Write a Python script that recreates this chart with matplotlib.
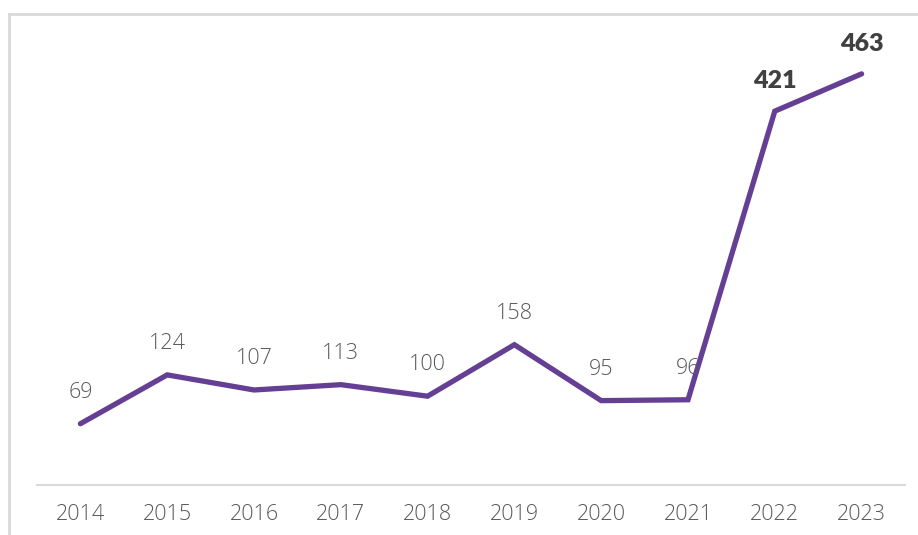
import matplotlib
matplotlib.use("Agg")
import matplotlib.pyplot as plt
from matplotlib.lines import Line2D

years = ["2014", "2015", "2016", "2017", "2018", "2019", "2020", "2021", "2022", "2023"]
values = [69, 124, 107, 113, 100, 158, 95, 96, 421, 463]
bold_labels = {"2022", "2023"}

W, H = 918, 535
fig = plt.figure(figsize=(W / 100, H / 100), dpi=100)
fig.patch.set_facecolor("white")

# outer frame (top and left only)
fx0 = 8.5 / W
fy0 = 1 - 13.5 / H
fig.add_artist(Line2D([fx0, 1], [fy0, fy0], transform=fig.transFigure, color="#d9d9d9", lw=2))
fig.add_artist(Line2D([fx0, fx0], [0, fy0], transform=fig.transFigure, color="#d9d9d9", lw=2))

ax_left, ax_right = 37 / W, 905 / W
base_px = 485
ax_bottom = 1 - base_px / H
ymax = 500
ax_top_px = base_px - ymax * 0.888
ax = fig.add_axes([ax_left, ax_bottom, ax_right - ax_left, (base_px - ax_top_px) / H])

x = list(range(len(years)))
ax.plot(x, values, color="#643f94", lw=3.8, solid_capstyle="round", solid_joinstyle="miter", zorder=3)
ax.set_xlim(-0.5, len(years) - 0.5)
ax.set_ylim(0, ymax)

for xi, yr, v in zip(x, years, values):
    if yr in bold_labels:
        ax.annotate(str(v), (xi, v), xytext=(0, 21.5), textcoords="offset points",
                    ha="center", va="center", fontsize=18, fontweight="heavy",
                    color="#404040", family="Lato")
    else:
        ax.annotate(str(v), (xi, v), xytext=(0, 22.5), textcoords="offset points",
                    ha="center", va="center", fontsize=15.5, fontweight="light",
                    color="#595959", family="Open Sans")

for s in ["top", "right", "left"]:
    ax.spines[s].set_visible(False)
ax.spines["bottom"].set_color("#d9d9d9")
ax.spines["bottom"].set_linewidth(1.5)
ax.set_yticks([])
ax.set_xticks(x)
ax.set_xticklabels(years, fontsize=15.5, color="#595959", family="Open Sans", fontweight="light")
ax.tick_params(axis="x", length=0, pad=13.5)
ax.patch.set_alpha(0)

fig.savefig("out.png", dpi=100, facecolor="white")
